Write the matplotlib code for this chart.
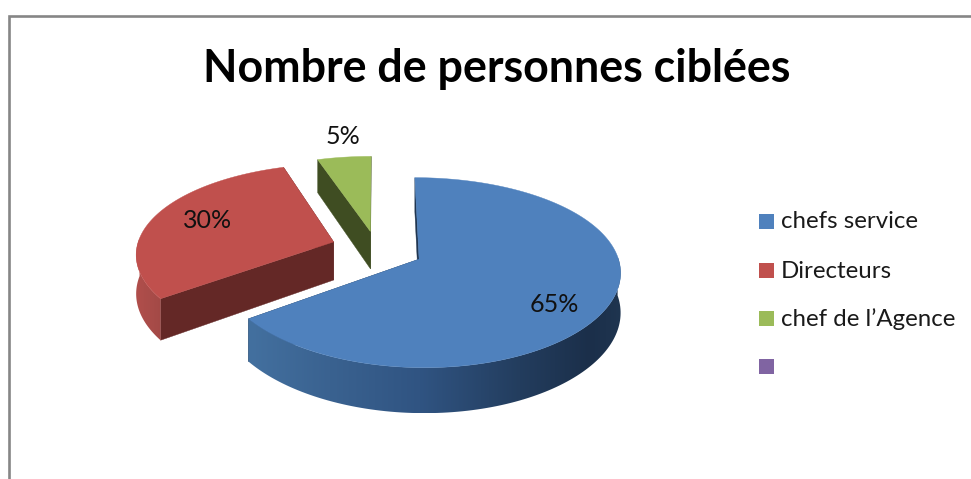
import numpy as np
import matplotlib
matplotlib.use('Agg')
import matplotlib.pyplot as plt
from matplotlib.patches import Polygon, Rectangle
from matplotlib.colors import to_rgb

# data
title = 'Nombre de personnes ciblées'
categories = ['chefs service', 'Directeurs', 'chef de l’Agence', '']
values = [65, 30, 5, 0]

# colours
top_colors = ['#4f81bd', '#c0504d', '#9bbb59', '#8064a2']
face_colors = ['#1f3550', '#642826', '#3f4d22', '#8064a2']

# projection of the 3d pie, everything is in image pixels
cx, cy = 378, 251
W, A, H = 197, 90.5, 38.5
Bx, By = 0.12, 0.14
explode = 0.22
# small per slice shift to sit on the reference
shift_x = [2, -3.5, -1]
shift_y = [-1, -3, -0.5]

plt.rcParams['font.family'] = ['Lato', 'DejaVu Sans']


def project(x, y, z=0):
    dx = 1 + Bx * y
    dy = 1 + By * y
    return cx + W * x / dx, cy - (A * y + H * z) / dy


fig = plt.figure(figsize=(9.71, 4.79), dpi=100)
ax = fig.add_axes([0, 0, 1, 1])
ax.set_xlim(0, 971)
ax.set_ylim(479, 0)
ax.axis('off')

# chart frame, only top and left are in the crop
ax.plot([8.5, 8.5, 971], [479, 15.5, 15.5], color='#868686', lw=1.9,
        solid_joinstyle='miter')

ax.text(497, 69, title, ha='center', va='center', fontsize=32.2,
        fontweight='bold', color='black')

# wall gradient along x: position and colour for the slices that show a wall
wall_x = {0: [250, 330, 420, 520, 590, 622], 1: [137, 150, 165]}
wall_c = {0: ['#43709f', '#3a6290', '#305482', '#233d5e', '#1b2f4a', '#1f3550'],
          1: ['#b04e4b', '#a94c49', '#a04845']}

total = sum(values)
start = 0
slices = []
for i, v in enumerate(values[:3]):
    end = start + v / total * 360
    slices.append((i, start, end))
    start = end

# back to front
for i, a0, a1 in [slices[2], slices[1], slices[0]]:
    mid = np.radians((a0 + a1) / 2)
    ox, oy = explode * np.sin(mid), explode * np.cos(mid)
    t = np.radians(np.linspace(a0, a1, 181))
    ex, ey = ox + np.sin(t), oy + np.cos(t)
    sh = np.array([shift_x[i], shift_y[i]])

    # straight cut faces
    for k in (0, -1):
        pts = np.array([project(ox, oy), project(ex[k], ey[k]),
                        project(ex[k], ey[k], -1), project(ox, oy, -1)]) + sh
        ax.add_patch(Polygon(pts, closed=True, fc=face_colors[i], ec=face_colors[i], lw=0.3))

    # outer wall, one polygon filled with a horizontal gradient
    if i in wall_x:
        vis = np.cos(t) <= 0.05
        ux, uy = project(ex[vis], ey[vis])
        lx, ly = project(ex[vis], ey[vis], -1)
        outline = np.c_[np.r_[ux, lx[::-1]] + sh[0], np.r_[uy, ly[::-1]] + sh[1]]
        wall = Polygon(outline, closed=True, fc='none', ec='none')
        ax.add_patch(wall)
        x0, x1 = outline[:, 0].min(), outline[:, 0].max()
        y0, y1 = outline[:, 1].min(), outline[:, 1].max()
        grid = np.linspace(x0, x1, 256)
        rgb = np.array([to_rgb(c) for c in wall_c[i]])
        img = np.stack([np.interp(grid, wall_x[i], rgb[:, c]) for c in range(3)], axis=-1)[None, :, :]
        im = ax.imshow(img, extent=[x0, x1, y1, y0], aspect='auto', interpolation='bilinear', zorder=2)
        im.set_clip_path(wall)

    # top surface
    sx, sy = project(np.r_[ox, ex], np.r_[oy, ey])
    ax.add_patch(Polygon(np.c_[sx + sh[0], sy + sh[1]], closed=True,
                         fc=top_colors[i], ec=top_colors[i], lw=0.3, zorder=3))

ax.set_xlim(0, 971)
ax.set_ylim(479, 0)

# percent labels
label_x = [554, 208, 343]
label_y = [305, 220, 136]
for v, lx, ly in zip(values[:3], label_x, label_y):
    ax.text(lx, ly, '%d%%' % round(v / total * 100), ha='center', va='center',
            fontsize=18, color='#111111', zorder=5)

# legend
legend_y = [221.5, 270.5, 318.5, 366.5]
legend_text_y = [222, 271, 319, 367]
for name, col, ly, ty in zip(categories, top_colors, legend_y, legend_text_y):
    ax.add_patch(Rectangle((759, ly - 7.5), 15, 15, fc=col, ec='none'))
    ax.text(781, ty, name, ha='left', va='center', fontsize=17.3, color='#1a1a1a')

fig.savefig('out.png', dpi=100)
